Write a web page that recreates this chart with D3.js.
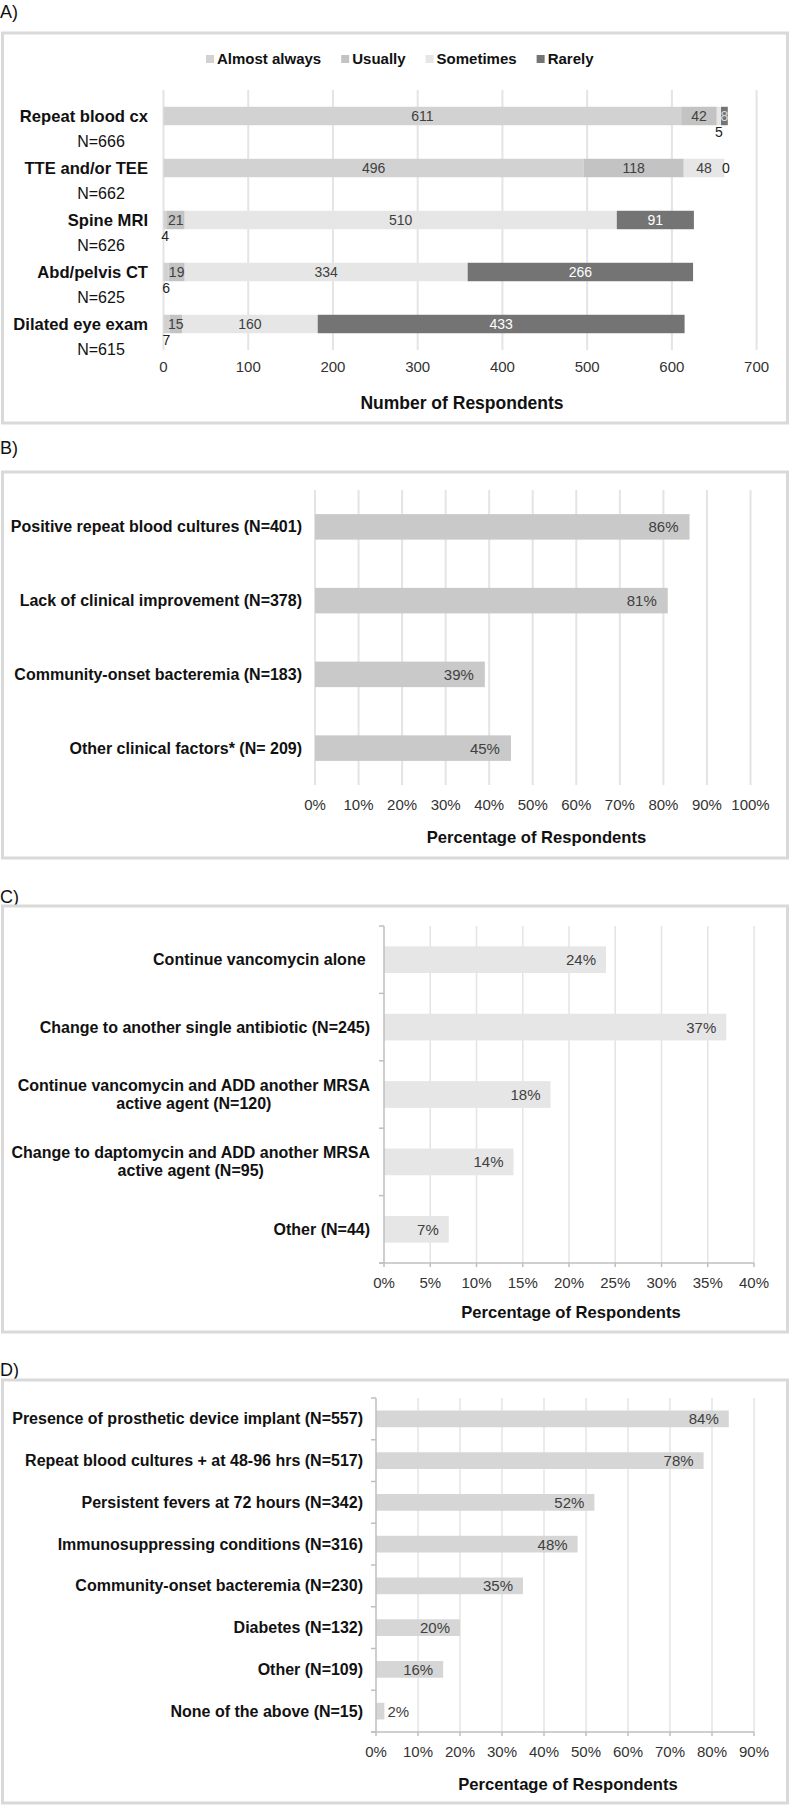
<!DOCTYPE html>
<html>
<head>
<meta charset="utf-8">
<script src="https://cdn.jsdelivr.net/npm/d3@7"></script>
<style>
  html, body { margin: 0; padding: 0; background: #fff; }
  svg { display: block; font-family: "Liberation Sans", Arial, sans-serif; }
</style>
</head>
<body>
<svg id="chart" width="790" height="1806"></svg>
<script>
// ---------------- DATA ----------------
// Panel A (stacked counts)
const aCategories = ["Repeat blood cx", "TTE and/or TEE", "Spine MRI", "Abd/pelvis CT", "Dilated eye exam"];
const aTotals = ["N=666", "N=662", "N=626", "N=625", "N=615"];
const aSeriesNames = ["Almost always", "Usually", "Sometimes", "Rarely"];
const aAlmostAlways = [611, 496, 4, 6, 7];
const aUsually = [42, 118, 21, 19, 15];
const aSometimes = [5, 48, 510, 334, 160];
const aRarely = [8, 0, 91, 266, 433];
const aTicks = [0, 100, 200, 300, 400, 500, 600, 700];

// Panel B
const bCategories = ["Positive repeat blood cultures (N=401)", "Lack of clinical improvement (N=378)",
  "Community-onset bacteremia (N=183)", "Other clinical factors* (N= 209)"];
const bValues = [86, 81, 39, 45];
const bTicks = [0, 10, 20, 30, 40, 50, 60, 70, 80, 90, 100];

// Panel C
const cCategories = ["Continue vancomycin alone ", "Change to another single antibiotic (N=245)",
  "Continue vancomycin and ADD another MRSA\nactive agent (N=120)",
  "Change to daptomycin and ADD another MRSA\nactive agent (N=95)", "Other (N=44)"];
const cValues = [24, 37, 18, 14, 7];
const cTicks = [0, 5, 10, 15, 20, 25, 30, 35, 40];

// Panel D
const dCategories = ["Presence of prosthetic device implant (N=557)", "Repeat blood cultures + at 48-96 hrs (N=517)",
  "Persistent fevers at 72 hours (N=342)", "Immunosuppressing conditions (N=316)",
  "Community-onset bacteremia (N=230)", "Diabetes (N=132)", "Other (N=109)", "None of the above (N=15)"];
const dValues = [84, 78, 52, 48, 35, 20, 16, 2];
const dTicks = [0, 10, 20, 30, 40, 50, 60, 70, 80, 90];

// ---------------- STYLE ----------------
const svg = d3.select("#chart");
const GRID = "#e4e4e4";
const AXIS = "#bfbfbf";
const BORDER = "#d9d9d9";
const LABEL = "#404040";
const TICK = "#333333";

function panel(letter, labelY, top, bottom) {
  svg.append("text").attr("x", 0).attr("y", labelY).attr("font-size", 18).attr("fill", "#111").text(letter);
  svg.append("rect").attr("x", 2.5).attr("y", top).attr("width", 785).attr("height", bottom - top)
    .attr("fill", "none").attr("stroke", BORDER).attr("stroke-width", 3);
}

function xAxisLabels(g, x, ticks, y, fmt) {
  g.selectAll(null).data(ticks).join("text")
    .attr("x", d => x(d)).attr("y", y).attr("text-anchor", "middle")
    .attr("font-size", 15).attr("fill", TICK).text(fmt);
}

function axisTitle(g, text, cx, y, size) {
  g.append("text").attr("x", cx).attr("y", y).attr("text-anchor", "middle")
    .attr("font-size", size).attr("font-weight", "bold").attr("fill", "#111").text(text);
}

// ---------------- PANEL A ----------------
panel("A)", 18, 33, 423);
{
  const g = svg.append("g");
  const x = d3.scaleLinear().domain([0, 700]).range([163.5, 756.6]);
  const y = d3.scaleBand().domain(aCategories).range([90, 350]).paddingInner(0.645).paddingOuter(0.3225);
  const colors = ["#d2d2d2", "#c3c3c3", "#e6e6e6", "#747474"];
  const seriesArrays = [aAlmostAlways, aUsually, aSometimes, aRarely];

  g.selectAll(".grid").data(aTicks).join("line")
    .attr("x1", d => x(d)).attr("x2", d => x(d)).attr("y1", 90).attr("y2", 350)
    .attr("stroke", GRID).attr("stroke-width", 2);

  const rows = aCategories.map((c, i) => {
    const o = { cat: c };
    aSeriesNames.forEach((s, j) => o[s] = seriesArrays[j][i]);
    return o;
  });
  const stack = d3.stack().keys(aSeriesNames)(rows);

  stack.forEach((layer, j) => {
    g.selectAll(null).data(layer).join("rect")
      .attr("x", d => x(d[0])).attr("width", d => x(d[1]) - x(d[0]))
      .attr("y", d => y(d.data.cat)).attr("height", y.bandwidth())
      .attr("fill", colors[j]);
  });
  stack.forEach((layer, j) => {
    g.selectAll(null).data(layer).join("text")
      .attr("x", d => (x(d[0]) + x(d[1])) / 2 + ((d[1] - d[0]) === 0 ? 1.5 : 0))
      .attr("y", d => {
        const v = d[1] - d[0];
        const base = y(d.data.cat) + y.bandwidth() / 2;
        return (v > 0 && v < 8) ? base + 16 + 5 : base + 5;
      })
      .attr("text-anchor", "middle").attr("font-size", 14)
      .attr("fill", d => {
        const v = d[1] - d[0];
        if (v < 8) return "#222";
        return j === 3 ? (v < 10 ? "#d9d9d9" : "#ffffff") : LABEL;
      })
      .text(d => d[1] - d[0]);
  });

  g.selectAll(".cat").data(aCategories).join("text")
    .attr("x", 148).attr("y", d => y(d) + y.bandwidth() / 2 + 6)
    .attr("text-anchor", "end").attr("font-size", 16.6).attr("font-weight", "bold").attr("fill", "#111")
    .text(d => d);
  g.selectAll(".tot").data(aTotals).join("text")
    .attr("x", 101).attr("y", (d, i) => y(aCategories[i]) + y.bandwidth() / 2 + 31)
    .attr("text-anchor", "middle").attr("font-size", 16).attr("fill", "#111")
    .text(d => d);

  xAxisLabels(g, x, aTicks, 372, d => d);
  axisTitle(g, "Number of Respondents", 462, 409, 17.5);

  // legend
  let lx = 206;
  aSeriesNames.forEach((s, j) => {
    g.append("rect").attr("x", lx).attr("y", 55).attr("width", 8).attr("height", 8).attr("fill", colors[j]);
    const t = g.append("text").attr("x", lx + 11).attr("y", 64).attr("font-size", 15)
      .attr("font-weight", "bold").attr("fill", "#111").text(s);
    lx += 11 + t.node().getComputedTextLength() + 20;
  });
}

// ---------------- PANEL B ----------------
panel("B)", 454, 472, 858);
{
  const g = svg.append("g");
  const x = d3.scaleLinear().domain([0, 100]).range([315, 750.5]);
  const y = d3.scaleBand().domain(bCategories).range([490, 785]).paddingInner(0.654).paddingOuter(0.327);
  g.selectAll(null).data(bTicks).join("line")
    .attr("x1", d => x(d)).attr("x2", d => x(d)).attr("y1", 490).attr("y2", 785)
    .attr("stroke", GRID).attr("stroke-width", 2);
  g.selectAll(null).data(bValues).join("rect")
    .attr("x", x(0)).attr("width", d => x(d) - x(0))
    .attr("y", (d, i) => y(bCategories[i])).attr("height", y.bandwidth()).attr("fill", "#c9c9c9");
  g.selectAll(null).data(bValues).join("text")
    .attr("x", d => x(d) - 11).attr("y", (d, i) => y(bCategories[i]) + y.bandwidth() / 2 + 5.5)
    .attr("text-anchor", "end").attr("font-size", 15).attr("fill", LABEL).text(d => d + "%");
  g.selectAll(null).data(bCategories).join("text")
    .attr("x", 302).attr("y", d => y(d) + y.bandwidth() / 2 + 5.5)
    .attr("text-anchor", "end").attr("font-size", 16).attr("font-weight", "bold").attr("fill", "#111").text(d => d);
  xAxisLabels(g, x, bTicks, 810, d => d + "%");
  axisTitle(g, "Percentage of Respondents", 536.5, 843, 16.6);
}

// ---------------- helper for C & D ----------------
function axisPanel(cats, vals, ticks, xr, yr, pad, barColor, labelRight, labelSize, tickY, title, titleX, titleY) {
  const g = svg.append("g");
  const x = d3.scaleLinear().domain([0, ticks[ticks.length - 1]]).range(xr);
  const y = d3.scaleBand().domain(cats).range(yr).paddingInner(pad).paddingOuter(pad / 2);
  g.selectAll(null).data(ticks.slice(1)).join("line")
    .attr("x1", d => x(d)).attr("x2", d => x(d)).attr("y1", yr[0]).attr("y2", yr[1])
    .attr("stroke", GRID).attr("stroke-width", 1.5);
  g.selectAll(null).data(vals).join("rect")
    .attr("x", x(0)).attr("width", d => x(d) - x(0))
    .attr("y", (d, i) => y(cats[i])).attr("height", y.bandwidth()).attr("fill", barColor);
  // axes
  g.append("line").attr("x1", x(0)).attr("x2", x(0)).attr("y1", yr[0]).attr("y2", yr[1])
    .attr("stroke", AXIS).attr("stroke-width", 1.5);
  const bounds = cats.map(c => y(c) - y.step() * pad / 2).concat([yr[1]]);
  g.selectAll(null).data(bounds).join("line")
    .attr("x1", x(0) - 5).attr("x2", x(0)).attr("y1", d => d).attr("y2", d => d)
    .attr("stroke", AXIS).attr("stroke-width", 1.5);
  g.append("line").attr("x1", x(0) - 5).attr("x2", xr[1]).attr("y1", yr[1]).attr("y2", yr[1])
    .attr("stroke", AXIS).attr("stroke-width", 1.5);
  g.selectAll(null).data(ticks).join("line")
    .attr("x1", d => x(d)).attr("x2", d => x(d)).attr("y1", yr[1]).attr("y2", yr[1] + 4)
    .attr("stroke", AXIS).attr("stroke-width", 1.5);
  // value labels
  g.selectAll(null).data(vals).join("text")
    .attr("x", d => (x(d) - x(0) > 40) ? x(d) - 10 : x(d) + 3)
    .attr("text-anchor", d => (x(d) - x(0) > 40) ? "end" : "start")
    .attr("y", (d, i) => y(cats[i]) + y.bandwidth() / 2 + 5.5)
    .attr("font-size", 15).attr("fill", LABEL).text(d => d + "%");
  // category labels (multi-line centered blocks)
  cats.forEach(c => {
    const lines = c.split("\n");
    const cy = y(c) + y.bandwidth() / 2;
    if (lines.length === 1) {
      g.append("text").attr("x", labelRight).attr("y", cy + 5.5).attr("text-anchor", "end")
        .style("white-space", "pre")
        .attr("font-size", labelSize).attr("font-weight", "bold").attr("fill", "#111").text(c);
    } else {
      const ts = lines.map((l, k) => g.append("text")
        .attr("y", cy + 5.5 + (k - (lines.length - 1) / 2) * 18)
        .attr("text-anchor", "middle").attr("font-size", labelSize).attr("font-weight", "bold").attr("fill", "#111").text(l));
      const w = d3.max(ts, t => t.node().getComputedTextLength());
      ts.forEach(t => t.attr("x", labelRight - w / 2));
    }
  });
  xAxisLabels(g, x, ticks, tickY, d => d + "%");
  axisTitle(g, title, titleX, titleY, 16.6);
}

// ---------------- PANEL C ----------------
panel("C)", 903, 906, 1332);
axisPanel(cCategories, cValues, cTicks, [384, 754], [926, 1263], 0.604, "#e6e6e6", 370, 16, 1288,
  "Percentage of Respondents", 571, 1318);

// ---------------- PANEL D ----------------
panel("D)", 1376, 1380, 1803);
axisPanel(dCategories, dValues, dTicks, [376, 754], [1398, 1732], 0.6, "#d6d6d6", 363, 16, 1757,
  "Percentage of Respondents", 568, 1790);
</script>
</body>
</html>
